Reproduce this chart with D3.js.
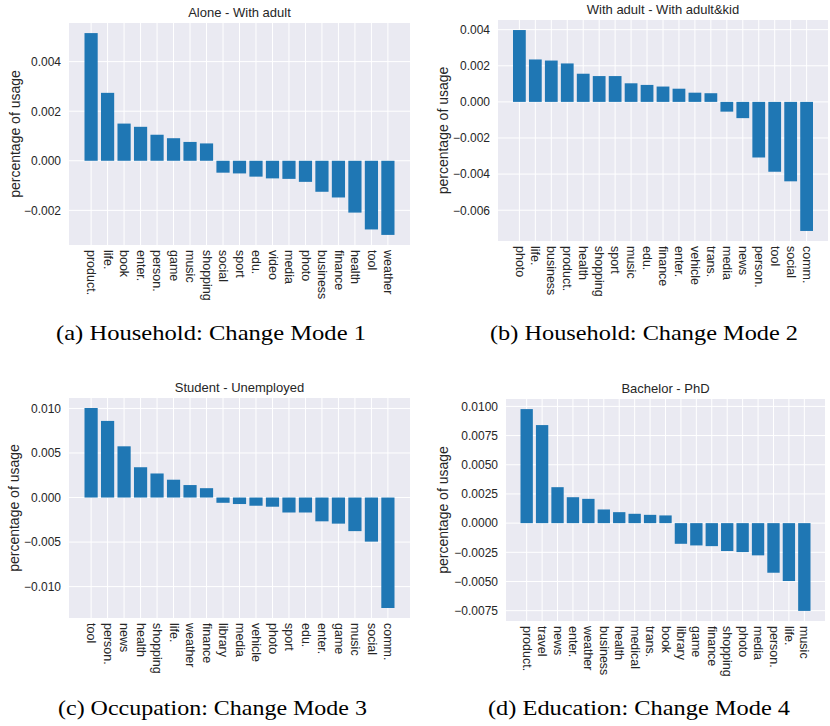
<!DOCTYPE html>
<html>
<head>
<meta charset="utf-8">
<script src="https://cdn.jsdelivr.net/npm/d3@7"></script>
<style>
  body { margin: 0; background: #fff; }
  svg { display: block; }
  .tick text { fill: #262626; }
</style>
</head>
<body>
<script>
// (a) Household: Alone - With adult
const catsA = ["product.", "life.", "book", "enter.", "person.", "game", "music", "shopping", "social",
  "sport", "edu.", "video", "media", "photo", "business", "finance", "health", "tool", "weather"];
const valsA = [0.00515, 0.00274, 0.00150, 0.00137, 0.00105, 0.00091, 0.00076, 0.00070, -0.00048,
  -0.00051, -0.00064, -0.00071, -0.00073, -0.00085, -0.00125, -0.00148, -0.00209, -0.00277, -0.00299];
const ticksA = [0.004, 0.002, 0, -0.002];

// (b) Household: With adult - With adult&kid
const catsB = ["photo", "life.", "business", "product.", "health", "shopping", "sport", "music", "edu.",
  "finance", "enter.", "vehicle", "trans.", "media", "news", "person.", "tool", "social", "comm."];
const valsB = [0.00398, 0.00235, 0.00229, 0.00213, 0.00156, 0.00143, 0.00143, 0.00103, 0.00094,
  0.00085, 0.00073, 0.00051, 0.00048, -0.00054, -0.00090, -0.00308, -0.00387, -0.00440, -0.00715];
const ticksB = [0.004, 0.002, 0, -0.002, -0.004, -0.006];

// (c) Occupation: Student - Unemployed
const catsC = ["tool", "person.", "news", "health", "shopping", "life.", "weather", "finance", "library",
  "media", "vehicle", "photo", "sport", "edu.", "enter.", "game", "music", "social", "comm."];
const valsC = [0.01005, 0.0086, 0.00575, 0.0034, 0.0027, 0.0020, 0.0014, 0.00105, -0.00059,
  -0.00073, -0.00092, -0.00103, -0.00168, -0.00168, -0.00267, -0.00293, -0.00377, -0.00495, -0.0124];
const ticksC = [0.010, 0.005, 0, -0.005, -0.010];

// (d) Education: Bachelor - PhD
const catsD = ["product.", "travel", "news", "enter.", "weather", "business", "health", "medical", "trans.",
  "book", "library", "game", "finance", "shopping", "photo", "media", "person.", "life.", "music"];
const valsD = [0.00977, 0.0084, 0.00308, 0.00222, 0.00208, 0.00117, 0.00094, 0.00080, 0.00071,
  0.00066, -0.00177, -0.00191, -0.00197, -0.00239, -0.00248, -0.00276, -0.00425, -0.00496, -0.00752];
const ticksD = [0.0100, 0.0075, 0.0050, 0.0025, 0, -0.0025, -0.0050, -0.0075];

const W = 830, H = 726;
const barColor = "#1f77b4";
const bgColor = "#eaeaf2";
const textColor = "#262626";
const sans = "'Liberation Sans', Arial, sans-serif";
const serif = "'Liberation Serif', 'Times New Roman', serif";

const panels = [
  { title: "Alone - With adult", cats: catsA, vals: valsA, ticks: ticksA, digits: 3,
    caption: "(a) Household: Change Mode 1",
    l: 69, r: 410, t: 23, b: 245, ylabX: 15, capX: 56, capW: 310, capY: 340 },
  { title: "With adult - With adult&kid", cats: catsB, vals: valsB, ticks: ticksB, digits: 3,
    caption: "(b) Household: Change Mode 2",
    l: 498, r: 828, t: 20, b: 241, ylabX: 443, capX: 490, capW: 308, capY: 340 },
  { title: "Student - Unemployed", cats: catsC, vals: valsC, ticks: ticksC, digits: 3,
    caption: "(c) Occupation: Change Mode 3",
    l: 69, r: 410, t: 398, b: 618, ylabX: 14, capX: 58, capW: 309, capY: 715 },
  { title: "Bachelor - PhD", cats: catsD, vals: valsD, ticks: ticksD, digits: 4,
    caption: "(d) Education: Change Mode 4",
    l: 506, r: 825, t: 399, b: 621, ylabX: 443, capX: 488, capW: 302, capY: 715 }
];

const svg = d3.select("body").append("svg")
  .attr("width", W)
  .attr("height", H);

svg.append("rect")
  .attr("width", W)
  .attr("height", H)
  .attr("fill", "#fff");

function drawPanel(p) {
  const n = p.cats.length;
  const lo = Math.min(0, d3.min(p.vals));
  const hi = Math.max(0, d3.max(p.vals));
  const ypad = (hi - lo) * 0.05;
  const y = d3.scaleLinear().domain([lo - ypad, hi + ypad]).range([p.b, p.t]);
  const xpad = (n - 0.2) * 0.05;
  const x = d3.scaleLinear().domain([-0.4 - xpad, n - 0.6 + xpad]).range([p.l, p.r]);

  const g = svg.append("g");

  g.append("rect")
    .attr("x", p.l)
    .attr("y", p.t)
    .attr("width", p.r - p.l)
    .attr("height", p.b - p.t)
    .attr("fill", bgColor);

  // grid
  g.selectAll(".hgrid")
    .data(p.ticks)
    .enter()
    .append("line")
    .attr("x1", p.l)
    .attr("x2", p.r)
    .attr("y1", d => y(d))
    .attr("y2", d => y(d))
    .attr("stroke", "#fff")
    .attr("stroke-width", 1);

  g.selectAll(".vgrid")
    .data(d3.range(n))
    .enter()
    .append("line")
    .attr("x1", d => x(d))
    .attr("x2", d => x(d))
    .attr("y1", p.t)
    .attr("y2", p.b)
    .attr("stroke", "#fff")
    .attr("stroke-width", 1);

  g.selectAll(".bar")
    .data(p.vals)
    .enter()
    .append("rect")
    .attr("x", (d, i) => x(i - 0.4))
    .attr("width", (d, i) => x(i + 0.4) - x(i - 0.4))
    .attr("y", d => y(Math.max(0, d)))
    .attr("height", d => Math.abs(y(d) - y(0)))
    .attr("fill", barColor);

  const fmt = d3.format("." + p.digits + "f");
  const yAxis = g.append("g")
    .attr("transform", `translate(${p.l},0)`)
    .call(d3.axisLeft(y).tickValues(p.ticks).tickSize(0).tickPadding(8)
      .tickFormat(d => fmt(d).replace("-", "\u2212")));
  yAxis.select(".domain").remove();
  yAxis.selectAll("text")
    .style("font-family", sans)
    .style("font-size", "12px");

  const xAxis = g.append("g")
    .attr("transform", `translate(0,${p.b})`)
    .call(d3.axisBottom(x).tickValues(d3.range(n)).tickSize(0)
      .tickFormat(i => p.cats[i]));
  xAxis.select(".domain").remove();
  xAxis.selectAll("text")
    .attr("transform", "rotate(90)")
    .attr("x", 5)
    .attr("y", 0)
    .attr("dy", "0.35em")
    .style("text-anchor", "start")
    .style("font-family", sans)
    .style("font-size", "12.5px");

  g.append("text")
    .attr("x", (p.l + p.r) / 2)
    .attr("y", p.t - 6)
    .attr("text-anchor", "middle")
    .attr("fill", textColor)
    .style("font-family", sans)
    .style("font-size", "13px")
    .text(p.title);

  g.append("text")
    .attr("transform", `translate(${p.ylabX},${(p.t + p.b) / 2}) rotate(-90)`)
    .attr("text-anchor", "middle")
    .attr("dy", "0.35em")
    .attr("fill", textColor)
    .style("font-family", sans)
    .style("font-size", "14px")
    .text("percentage of usage");

  g.append("text")
    .attr("x", p.capX)
    .attr("y", p.capY)
    .attr("textLength", p.capW)
    .attr("lengthAdjust", "spacingAndGlyphs")
    .attr("fill", "#000")
    .style("font-family", serif)
    .style("font-size", "21px")
    .text(p.caption);
}

panels.forEach(drawPanel);
</script>
</body>
</html>
